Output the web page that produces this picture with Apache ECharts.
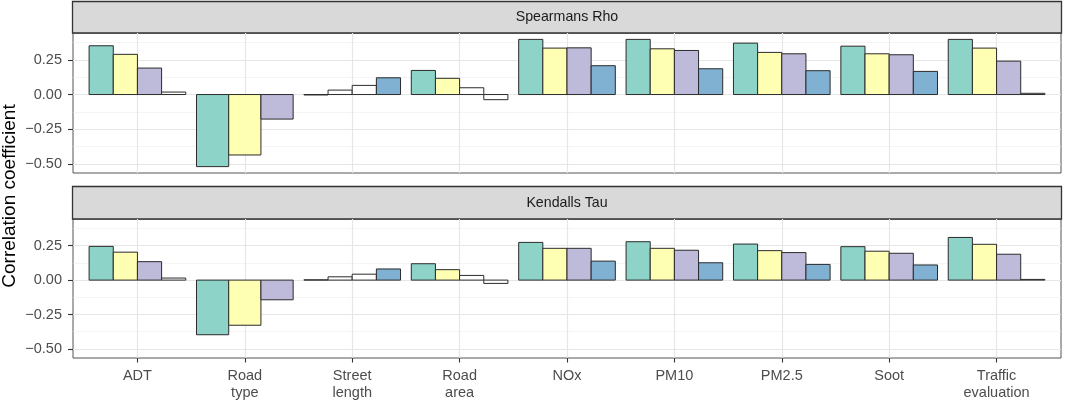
<!DOCTYPE html>
<html>
<head>
<meta charset="utf-8">
<style>
  html, body { margin: 0; padding: 0; background: #fff; }
  #chart-container { width: 1065px; height: 401px; }
</style>
<script src="https://cdn.jsdelivr.net/npm/echarts@6/dist/echarts.min.js"></script>
</head>
<body>
<div id="chart-container"></div>
<script type="text/javascript">
// x categories (facets share them)
var categories = ['ADT', 'Road\ntype', 'Street\nlength', 'Road\narea', 'NOx', 'PM10', 'PM2.5', 'Soot', 'Traffic\nevaluation'];
var facetNames = ['Spearmans Rho', 'Kendalls Tau'];
var yTicks = [-0.5, -0.25, 0, 0.25];
var yMinorTicks = [-0.375, -0.125, 0.125, 0.375];

// Spearman's rho, four groups (null = no bar)
var rho1 = [0.352, -0.520, -0.003, 0.174, 0.398, 0.398, 0.371, 0.349, 0.398];
var rho2 = [0.290, -0.436, 0.032, 0.117, 0.335, 0.330, 0.304, 0.294, 0.335];
var rho3 = [0.191, -0.177, 0.066, 0.049, 0.337, 0.318, 0.294, 0.287, 0.241];
var rho4 = [0.018, null, 0.121, -0.037, 0.208, 0.186, 0.172, 0.167, 0.009];
// significant (filled) or not (white)
var rhoSig1 = [1, 1, 0, 1, 1, 1, 1, 1, 1];
var rhoSig2 = [1, 1, 0, 1, 1, 1, 1, 1, 1];
var rhoSig3 = [1, 1, 0, 0, 1, 1, 1, 1, 1];
var rhoSig4 = [0, 0, 1, 0, 1, 1, 1, 1, 0];

// Kendall's tau
var tau1 = [0.245, -0.397, 0.002, 0.119, 0.274, 0.279, 0.262, 0.243, 0.310];
var tau2 = [0.203, -0.328, 0.024, 0.076, 0.231, 0.231, 0.214, 0.210, 0.260];
var tau3 = [0.134, -0.143, 0.043, 0.034, 0.231, 0.217, 0.200, 0.195, 0.188];
var tau4 = [0.015, null, 0.081, -0.024, 0.138, 0.126, 0.114, 0.110, 0.005];
var tauSig1 = [1, 1, 0, 1, 1, 1, 1, 1, 1];
var tauSig2 = [1, 1, 0, 1, 1, 1, 1, 1, 1];
var tauSig3 = [1, 1, 0, 0, 1, 1, 1, 1, 1];
var tauSig4 = [0, 0, 1, 0, 1, 1, 1, 1, 0];

var colors = ['#8DD3C7', '#FFFFB3', '#BEBADA', '#80B1D3'];
var FONT = 'Liberation Sans, Arial, Helvetica, sans-serif';

// build dodge rows: [cat, value, slot, nBars, sig, group]
function buildRows(groups, sigs) {
    var rows = [];
    for (var i = 0; i < categories.length; i++) {
        var present = [];
        for (var g = 0; g < groups.length; g++) {
            if (groups[g][i] !== null) present.push(g);
        }
        present.forEach(function (g, slot) {
            rows.push([i, groups[g][i], slot, present.length, sigs[g][i], g]);
        });
    }
    return rows;
}

function renderBar(params, api) {
    var cat = api.value(0), val = api.value(1), slot = api.value(2), n = api.value(3);
    var sig = api.value(4), g = api.value(5);
    var w = 0.9 / n;
    var x0 = cat - 0.45 + slot * w;
    var p1 = api.coord([x0, Math.max(val, 0)]);
    var p2 = api.coord([x0 + w, Math.min(val, 0)]);
    return {
        type: 'rect',
        shape: { x: p1[0], y: p1[1], width: p2[0] - p1[0], height: p2[1] - p1[1] },
        style: { fill: sig ? colors[g] : '#ffffff', stroke: '#2b2b2b', lineWidth: 1 }
    };
}

function fmt(v) {
    var s = Math.abs(v).toFixed(2);
    return v < 0 ? '\u2212' + s : s;
}

var panels = [{ top: 33, strip: 1 }, { top: 219, strip: 186 }];
var catIdx = categories.map(function (c, i) { return i; });

var grids = [], xAxes = [], yAxes = [], graphics = [];
panels.forEach(function (p, k) {
    grids.push({ left: 73, top: p.top, width: 988, height: 140, show: true,
        borderColor: '#555555', borderWidth: 1, backgroundColor: 'transparent' });
    xAxes.push({
        type: 'value', gridIndex: k, min: -0.6, max: 8.6, position: 'bottom',
        axisLine: { show: false, onZero: false },
        axisTick: { show: k === 1, customValues: catIdx, length: 4.5, lineStyle: { color: '#333', width: 1.1 } },
        axisLabel: { show: k === 1, customValues: catIdx, formatter: function (v) { return categories[Math.round(v)]; },
            color: '#4D4D4D', fontSize: 14.5, fontFamily: FONT, lineHeight: 16.5, margin: 10 },
        splitLine: { show: true, lineStyle: { color: '#E6E6E6', width: 1.2 } }
    });
    yAxes.push({
        type: 'value', gridIndex: k, min: -0.566, max: 0.444, position: 'left',
        axisLine: { show: false, onZero: false },
        axisTick: { show: true, customValues: yTicks, length: 5, lineStyle: { color: '#333', width: 1.1 } },
        axisLabel: { customValues: yTicks, formatter: fmt, color: '#4D4D4D', fontSize: 14.5, fontFamily: FONT, margin: 11 },
        splitLine: { show: true, lineStyle: { color: '#E6E6E6', width: 1.2 } }
    });
    yAxes.push({
        type: 'value', gridIndex: k, min: -0.566, max: 0.444, position: 'left', offset: 0,
        axisLine: { show: false, onZero: false },
        axisTick: { show: false, customValues: yMinorTicks },
        axisLabel: { show: false, customValues: yMinorTicks },
        splitLine: { show: true, lineStyle: { color: '#EDEDED', width: 0.6 } }
    });
    // facet strip
    graphics.push({
        type: 'rect', shape: { x: 72.5, y: p.strip + 0.5, width: 989, height: p.top - p.strip - 0.5 },
        style: { fill: '#D9D9D9', stroke: '#333333', lineWidth: 1.3 }
    });
    graphics.push({
        type: 'text', x: 567, y: (p.strip + p.top) / 2 + 0.5,
        style: { text: facetNames[k], fill: '#1A1A1A', font: '14.2px ' + FONT, align: 'center', verticalAlign: 'middle' }
    });
});

graphics.push({
    type: 'text', x: 10, y: 196, rotation: Math.PI / 2,
    style: { text: 'Correlation coefficient', fill: '#000', font: '19px ' + FONT, align: 'center', verticalAlign: 'middle' }
});

var dom = document.getElementById('chart-container');
var myChart = echarts.init(dom, null, { renderer: 'canvas' });

var option = {
    animation: false,
    backgroundColor: '#ffffff',
    grid: grids,
    xAxis: xAxes,
    yAxis: yAxes,
    graphic: graphics,
    series: [
        {
            type: 'custom', name: facetNames[0], xAxisIndex: 0, yAxisIndex: 0,
            renderItem: renderBar, encode: { x: 0, y: 1 },
            data: buildRows([rho1, rho2, rho3, rho4], [rhoSig1, rhoSig2, rhoSig3, rhoSig4])
        },
        {
            type: 'custom', name: facetNames[1], xAxisIndex: 1, yAxisIndex: 2,
            renderItem: renderBar, encode: { x: 0, y: 1 },
            data: buildRows([tau1, tau2, tau3, tau4], [tauSig1, tauSig2, tauSig3, tauSig4])
        }
    ]
};

myChart.setOption(option);
window.addEventListener('resize', myChart.resize);
</script>
</body>
</html>
